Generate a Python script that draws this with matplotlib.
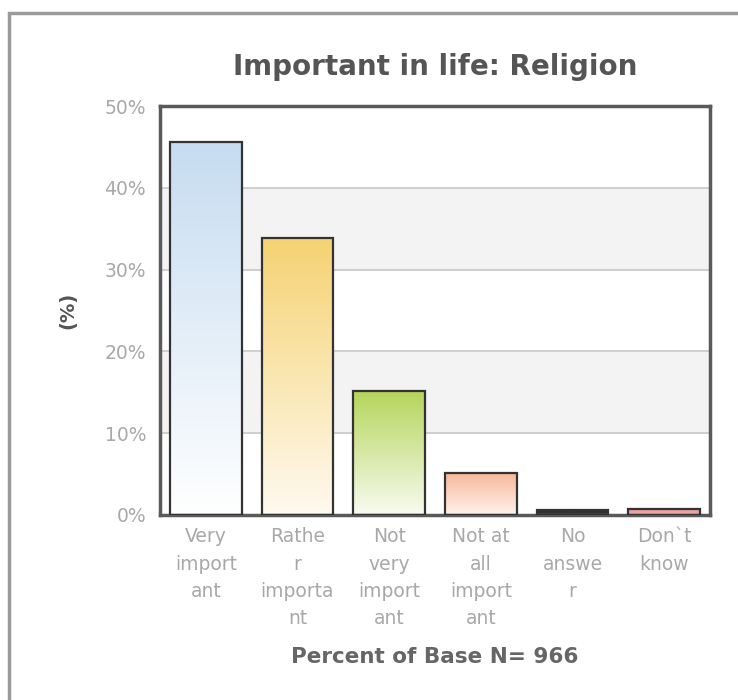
import numpy as np
import matplotlib
matplotlib.use("Agg")
import matplotlib.pyplot as plt
from matplotlib.colors import LinearSegmentedColormap
from matplotlib.patches import Rectangle

# data
categories = ["Very\nimport\nant", "Rathe\nr\nimporta\nnt", "Not\nvery\nimport\nant",
              "Not at\nall\nimport\nant", "No\nanswe\nr", "Don`t\nknow"]
values = [45.6, 33.9, 15.2, 5.1, 0.6, 0.7]
top_colors = ["#c6dcf1", "#f5d272", "#b4d55a", "#f7b899", "#333333", "#e89a9a"]
bottom_colors = ["#ffffff", "#fffaf0", "#f8fbf0", "#fff3ee", "#333333", "#f0b0b0"]
yticks = [0, 10, 20, 30, 40, 50]

fig = plt.figure(figsize=(7.38, 7.00), dpi=100)
ax = fig.add_axes([160/738, 1-515/700, 550/738, 409/700])

# outer frame of the whole chart
fig.patches.append(Rectangle((9/738, -0.05), 1.0, 1-13/700+0.05, transform=fig.transFigure,
                             fill=False, edgecolor="#9a9a9a", linewidth=2.5, clip_on=False))

# alternating bands
for i in range(len(yticks)-1):
    if i % 2 == 1:
        ax.axhspan(yticks[i], yticks[i+1], color="#f3f3f3", zorder=0)
for y in yticks[1:-1]:
    ax.axhline(y, color="#c8c8c8", linewidth=1.2, zorder=1)

x = np.arange(len(values))
width = 0.78
bars = ax.bar(x, values, width=width, facecolor="none", edgecolor="#333333", linewidth=1.6, zorder=3)
for b, v, c1, c2 in zip(bars, values, top_colors, bottom_colors):
    cmap = LinearSegmentedColormap.from_list("g", [c2, c1])
    grad = np.linspace(0, 1, 256).reshape(-1, 1)
    im = ax.imshow(grad, cmap=cmap, aspect="auto", origin="lower",
                   extent=[b.get_x(), b.get_x()+b.get_width(), 0, v], zorder=2)
    im.set_clip_path(b)

ax.set_xlim(-0.5, len(values)-0.5)
ax.set_ylim(0, 50)
ax.set_yticks(yticks)
ax.set_yticklabels([f"{t}%" for t in yticks])
ax.set_xticks(x)
ax.set_xticklabels(categories, linespacing=1.55)
ax.tick_params(axis="both", length=0, colors="#a8a8a8", labelsize=13.5, pad=10)
ax.tick_params(axis="x", pad=9)
for s in ax.spines.values():
    s.set_color("#5a5a5a")
    s.set_linewidth(2.5)

fig.text(435/738, 1-67/700, "Important in life: Religion", ha="center", va="center",
         fontsize=20, fontweight="bold", color="#555555")
fig.text(68/738, 1-310/700, "(%)", ha="center", va="center", rotation=90,
         fontsize=14, fontweight="bold", color="#555555")
fig.text(435/738, 1-657/700, "Percent of Base N= 966", ha="center", va="center",
         fontsize=15.5, fontweight="bold", color="#666666")

fig.savefig("out.png", dpi=100)
